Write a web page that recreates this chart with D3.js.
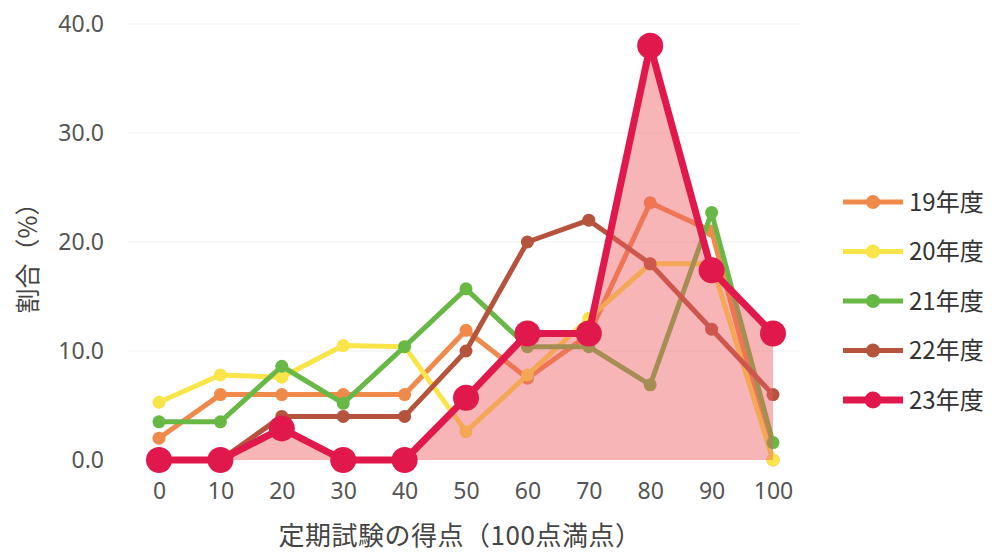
<!DOCTYPE html>
<html>
<head>
<meta charset="utf-8">
<script src="https://cdn.jsdelivr.net/npm/d3@7"></script>
<style>
  body { margin: 0; background: #fff; }
  text { font-family: "Noto Sans CJK JP", "Noto Sans", sans-serif; }
</style>
</head>
<body>
<div id="chart"></div>
<script>
// données
var scores = [0, 10, 20, 30, 40, 50, 60, 70, 80, 90, 100];
var nendo19 = [2.0, 6.0, 6.0, 6.0, 6.0, 11.9, 7.5, 11.5, 23.6, 21.0, 0.0];
var nendo20 = [5.3, 7.8, 7.6, 10.5, 10.4, 2.6, 7.8, 13.0, 18.0, 18.0, 0.0];
var nendo21 = [3.5, 3.5, 8.6, 5.2, 10.4, 15.7, 10.4, 10.4, 6.9, 22.7, 1.6];
var nendo22 = [0.0, 0.0, 4.0, 4.0, 4.0, 10.0, 20.0, 22.0, 18.0, 12.0, 6.0];
var nendo23 = [0.0, 0.0, 2.9, 0.0, 0.0, 5.7, 11.6, 11.6, 38.0, 17.4, 11.6];
var seriesNames = ["19年度", "20年度", "21年度", "22年度", "23年度"];
var yTicks = [0, 10, 20, 30, 40];

var largeurSvg = 992, hauteurSvg = 555;
var couleurs = ["#f08a4b", "#f9e54a", "#68b846", "#b5533c", "#e0184b"];

var svg = d3.select("#chart").append("svg")
    .attr("width", largeurSvg)
    .attr("height", hauteurSvg);

var x = d3.scaleLinear().domain([0, 100]).range([159, 773]);
var y = d3.scaleLinear().domain([0, 40]).range([460, 24]);

// grille très légère
svg.append("g")
    .selectAll("line")
    .data(yTicks.slice(1))
    .enter().append("line")
        .attr("x1", 128).attr("x2", 800)
        .attr("y1", function(d) { return y(d); })
        .attr("y2", function(d) { return y(d); })
        .attr("stroke", "#f5f5f5")
        .attr("stroke-width", 1.5);

// axe Y (labels seulement)
var axeY = svg.append("g")
    .attr("transform", "translate(107,0)")
    .call(d3.axisLeft(y).tickValues(yTicks).tickFormat(d3.format(".1f")).tickSize(0));
axeY.select(".domain").remove();
axeY.selectAll("text")
    .attr("fill", "#555")
    .style("font-size", "23px")
    .style("font-family", "'Noto Sans', sans-serif");

// axe X
var axeX = svg.append("g")
    .attr("transform", "translate(0,480)")
    .call(d3.axisBottom(x).tickValues(scores).tickSize(0));
axeX.select(".domain").remove();
axeX.selectAll("text")
    .attr("fill", "#555")
    .style("font-size", "23px")
    .style("font-family", "'Noto Sans', sans-serif");

// titres des axes
svg.append("text")
    .attr("x", 460).attr("y", 545)
    .attr("text-anchor", "middle")
    .attr("fill", "#444")
    .style("font-size", "26px")
    .style("letter-spacing", "0.5px")
    .text("定期試験の得点（100点満点）");

svg.append("text")
    .attr("transform", "translate(37,252) rotate(-90)")
    .attr("text-anchor", "middle")
    .attr("fill", "#444")
    .style("font-size", "25px")
    .text("割合（%）");

var toutes = [nendo19, nendo20, nendo21, nendo22, nendo23];
var ligne = d3.line()
    .x(function(d, i) { return x(scores[i]); })
    .y(function(d) { return y(d); });

// séries 19-22 (petits marqueurs)
for (var k = 0; k < 4; k++) {
    var g = svg.append("g");
    g.append("path")
        .datum(toutes[k])
        .attr("d", ligne)
        .attr("fill", "none")
        .attr("stroke", couleurs[k])
        .attr("stroke-width", 5)
        .attr("stroke-linejoin", "round");
    g.selectAll("circle")
        .data(toutes[k])
        .enter().append("circle")
            .attr("cx", function(d, i) { return x(scores[i]); })
            .attr("cy", function(d) { return y(d); })
            .attr("r", 6.5)
            .attr("fill", couleurs[k]);
}

// surface sous 23年度
var aire = d3.area()
    .x(function(d, i) { return x(scores[i]); })
    .y0(y(0))
    .y1(function(d) { return y(d); });
svg.append("path")
    .datum(nendo23)
    .attr("d", aire)
    .attr("fill", "#ee5a62")
    .attr("fill-opacity", 0.45);

// série 23 (gros marqueurs)
svg.append("path")
    .datum(nendo23)
    .attr("d", ligne)
    .attr("fill", "none")
    .attr("stroke", couleurs[4])
    .attr("stroke-width", 7)
    .attr("stroke-linejoin", "round");
svg.append("g").selectAll("circle")
    .data(nendo23)
    .enter().append("circle")
        .attr("cx", function(d, i) { return x(scores[i]); })
        .attr("cy", function(d) { return y(d); })
        .attr("r", 13)
        .attr("fill", couleurs[4]);

// légende
var legende = svg.append("g")
    .selectAll("g")
    .data(seriesNames)
    .enter().append("g")
        .attr("transform", function(d, i) { return "translate(0," + (202 + i * 49.5) + ")"; });
legende.append("line")
    .attr("x1", 843).attr("x2", 903)
    .attr("stroke", function(d, i) { return couleurs[i]; })
    .attr("stroke-width", function(d, i) { return i == 4 ? 7 : 5; });
legende.append("circle")
    .attr("cx", 873)
    .attr("r", function(d, i) { return i == 4 ? 8.5 : 7; })
    .attr("fill", function(d, i) { return couleurs[i]; });
legende.append("text")
    .attr("x", 909).attr("dy", "0.36em")
    .attr("fill", "#333")
    .style("font-size", "24px")
    .text(function(d) { return d; });
</script>
</body>
</html>
